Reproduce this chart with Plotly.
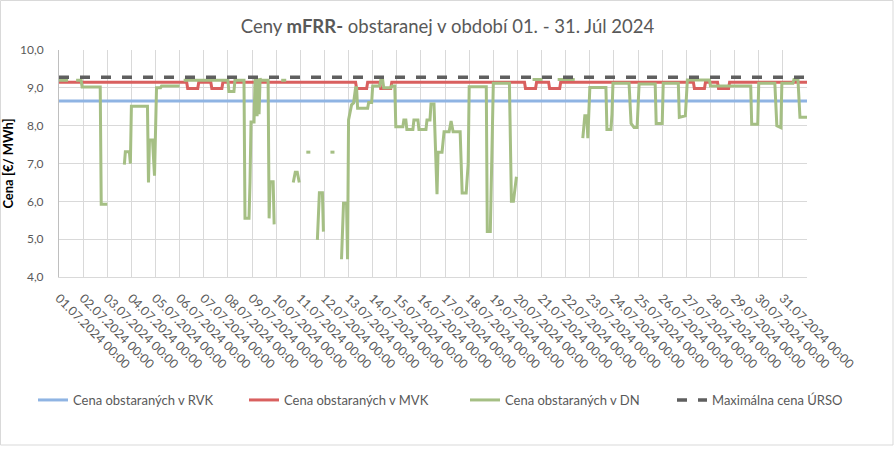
import plotly.graph_objects as go

# --- data ----------------------------------------------------------------
days = ["2024-07-%02d" % d for d in range(1, 32)]
day_labels = ["%02d.07.2024 00:00" % d for d in range(1, 32)]

period_start = "2024-07-01 00:00"
period_end = "2024-08-01 00:00"

rvk_value = 8.65          # Cena obstaraných v RVK
max_urso = 9.28           # Maximálna cena ÚRSO

# MVK: flat price with weekend dips (breakpoints)
mvk_time = [
    "2024-07-01 00:00",
    "2024-07-06 07:00", "2024-07-06 08:00", "2024-07-06 18:00", "2024-07-06 19:00",
    "2024-07-07 07:00", "2024-07-07 08:00", "2024-07-07 18:00", "2024-07-07 19:00",
    "2024-07-13 07:00", "2024-07-13 08:00", "2024-07-13 18:00", "2024-07-13 19:00",
    "2024-07-14 07:00", "2024-07-14 08:00", "2024-07-14 18:00", "2024-07-14 19:00",
    "2024-07-20 07:00", "2024-07-20 08:00", "2024-07-20 18:00", "2024-07-20 19:00",
    "2024-07-21 07:00", "2024-07-21 08:00", "2024-07-21 18:00", "2024-07-21 19:00",
    "2024-07-27 07:00", "2024-07-27 08:00", "2024-07-27 18:00", "2024-07-27 19:00",
    "2024-07-28 07:00", "2024-07-28 08:00", "2024-07-28 18:00", "2024-07-28 19:00",
    "2024-08-01 00:00",
]
mvk_value = [
    9.15,
    9.15, 8.98, 8.98, 9.15,
    9.15, 8.98, 8.98, 9.15,
    9.15, 8.98, 8.98, 9.15,
    9.15, 8.98, 8.98, 9.15,
    9.15, 8.98, 8.98, 9.15,
    9.15, 8.98, 8.98, 9.15,
    9.15, 8.98, 8.98, 9.15,
    9.15, 8.98, 8.98, 9.15,
    9.15,
]

# DN: breakpoints, None = no data
dn_time = [
    "2024-07-01 00:00", "2024-07-01 09:00", "2024-07-01 12:00",
    "2024-07-01 17:00", "2024-07-01 22:00", "2024-07-01 23:00", "2024-07-02 17:00",
    "2024-07-02 18:00", "2024-07-03 00:00", "2024-07-03 08:00",
    "2024-07-03 17:00", "2024-07-03 18:00", "2024-07-03 22:00", "2024-07-03 23:00",
    "2024-07-04 00:00", "2024-07-04 16:00", "2024-07-04 17:00", "2024-07-04 18:00",
    "2024-07-04 21:00", "2024-07-04 23:00", "2024-07-05 01:00", "2024-07-05 05:00",
    "2024-07-05 06:00", "2024-07-06 00:00", "2024-07-06 02:00",
    "2024-07-06 04:00", "2024-07-08 00:00", "2024-07-08 01:00", "2024-07-08 06:00",
    "2024-07-08 07:00", "2024-07-08 16:00", "2024-07-08 17:00", "2024-07-08 21:00",
    "2024-07-08 22:00", "2024-07-08 23:00", "2024-07-09 02:00", "2024-07-09 03:00",
    "2024-07-09 04:00", "2024-07-09 05:00", "2024-07-09 06:00", "2024-07-09 07:00",
    "2024-07-09 08:00", "2024-07-09 09:00", "2024-07-09 16:00", "2024-07-09 17:00",
    "2024-07-09 18:00", "2024-07-09 21:00", "2024-07-09 22:00", "2024-07-10 00:00",
    "2024-07-10 05:00", "2024-07-10 10:00", "2024-07-10 12:00",
    "2024-07-10 17:00", "2024-07-10 19:00", "2024-07-10 21:00", "2024-07-10 23:00",
    "2024-07-11 02:00",
    "2024-07-11 06:00", "2024-07-11 10:00", "2024-07-11 12:00",
    "2024-07-11 17:00", "2024-07-11 19:00", "2024-07-11 22:00", "2024-07-11 23:00",
    "2024-07-12 02:00",
    "2024-07-12 06:00", "2024-07-12 10:00", "2024-07-12 12:00",
    "2024-07-12 17:00", "2024-07-12 19:00", "2024-07-12 22:00", "2024-07-12 23:00",
    "2024-07-13 00:00", "2024-07-13 03:00", "2024-07-13 05:00", "2024-07-13 07:00",
    "2024-07-13 08:00", "2024-07-13 09:00", "2024-07-13 19:00", "2024-07-13 20:00",
    "2024-07-13 23:00", "2024-07-14 00:00", "2024-07-14 07:00", "2024-07-14 08:00",
    "2024-07-14 10:00", "2024-07-14 11:00", "2024-07-14 18:00", "2024-07-14 19:00",
    "2024-07-14 22:00", "2024-07-14 23:00", "2024-07-15 06:00", "2024-07-15 07:00",
    "2024-07-15 09:00", "2024-07-15 10:00", "2024-07-15 16:00", "2024-07-15 17:00",
    "2024-07-15 21:00", "2024-07-15 22:00", "2024-07-16 05:00", "2024-07-16 06:00",
    "2024-07-16 09:00", "2024-07-16 10:00", "2024-07-16 13:00", "2024-07-16 14:00",
    "2024-07-16 16:00", "2024-07-16 17:00", "2024-07-16 21:00", "2024-07-16 23:00",
    "2024-07-17 04:00", "2024-07-17 06:00", "2024-07-17 08:00", "2024-07-17 15:00",
    "2024-07-17 17:00", "2024-07-17 21:00", "2024-07-17 23:00", "2024-07-18 00:00",
    "2024-07-18 17:00", "2024-07-18 18:00", "2024-07-18 21:00", "2024-07-19 00:00",
    "2024-07-19 16:00", "2024-07-19 18:00", "2024-07-19 20:00", "2024-07-19 23:00",
    "2024-07-20 04:00",
    "2024-07-20 15:00", "2024-07-21 01:00", "2024-07-21 06:00",
    "2024-07-21 16:00", "2024-07-22 09:00", "2024-07-22 12:00",
    "2024-07-22 17:00", "2024-07-22 19:00", "2024-07-22 21:00", "2024-07-22 22:00",
    "2024-07-23 00:00", "2024-07-23 16:00", "2024-07-23 17:00", "2024-07-23 21:00",
    "2024-07-23 22:00", "2024-07-23 23:00", "2024-07-24 15:00", "2024-07-24 17:00",
    "2024-07-24 20:00", "2024-07-24 23:00", "2024-07-25 01:00", "2024-07-25 17:00",
    "2024-07-25 18:00", "2024-07-26 00:00", "2024-07-26 01:00", "2024-07-26 16:00",
    "2024-07-26 17:00", "2024-07-26 23:00", "2024-07-27 01:00", "2024-07-27 23:00",
    "2024-07-28 00:00", "2024-07-29 16:00", "2024-07-29 17:00", "2024-07-29 23:00",
    "2024-07-30 00:00", "2024-07-30 16:00", "2024-07-30 18:00", "2024-07-30 22:00",
    "2024-07-30 23:00", "2024-07-31 10:00", "2024-07-31 11:00", "2024-07-31 15:00",
    "2024-07-31 17:00", "2024-08-01 00:00",
]
dn_value = [
    9.20, 9.20, None,
    9.20, 9.20, 9.02, 9.02,
    5.92, 5.92, None,
    6.97, 7.31, 7.31, 7.00,
    8.51, 8.51, 6.50, 7.62,
    7.62, 6.68, 9.00, 9.00,
    9.05, 9.05, None,
    9.20, 9.20, 8.90, 8.90,
    9.20, 9.20, 5.55, 5.55,
    6.52, 8.10, 8.10, 9.25,
    9.25, 8.25, 9.25, 8.30,
    9.25, 9.20, 9.20, 5.55,
    6.52, 6.52, 5.39, None,
    9.20, 9.20, None,
    6.50, 6.77, 6.77, 6.50,
    None,
    7.30, 7.30, None,
    4.98, 6.23, 6.23, 5.20,
    None,
    7.30, 7.30, None,
    4.47, 5.95, 5.95, 4.47,
    8.15, 8.55, 8.60, 9.00,
    9.00, 8.46, 8.46, 8.61,
    8.61, 9.05, 9.05, 9.20,
    9.20, 9.00, 9.00, 9.05,
    9.05, 7.97, 7.97, 8.15,
    8.15, 7.90, 7.90, 8.15,
    8.15, 7.90, 7.90, 8.15,
    8.15, 8.57, 8.57, 7.88,
    6.19, 7.30, 7.30, 7.84,
    7.84, 8.12, 7.84, 7.84,
    6.22, 6.22, 7.00, 9.03,
    9.03, 5.20, 5.20, 9.12,
    9.12, 6.00, 6.00, 6.65,
    None,
    9.22, 9.22, None,
    9.22, 9.22, None,
    7.67, 8.26, 8.26, 7.67,
    9.01, 9.01, 7.90, 7.90,
    8.30, 9.12, 9.12, 8.06,
    7.95, 7.95, 9.10, 9.10,
    8.06, 8.06, 9.12, 9.12,
    8.22, 8.26, 9.21, 9.21,
    9.05, 9.05, 8.04, 8.04,
    9.12, 9.12, 8.00, 7.95,
    9.12, 9.12, 9.22, 9.22,
    8.22, 8.22,
]

# --- figure ---------------------------------------------------------------
FONT = "Lato"
GREY = "#595959"

W, H = 895, 449
L, R, T, B = 59, 88, 50, 172
pw, ph = W - L - R, H - T - B

fig = go.Figure()
fig.add_trace(go.Scatter(
    x=[period_start, period_end], y=[rvk_value, rvk_value], mode="lines",
    name="Cena obstaraných v RVK", legend="legend",
    line=dict(color="#8fb4e3", width=3)))
fig.add_trace(go.Scatter(
    x=mvk_time, y=mvk_value, mode="lines",
    name="Cena obstaraných v MVK", legend="legend2",
    line=dict(color="#d9605f", width=3)))
fig.add_trace(go.Scatter(
    x=dn_time, y=dn_value, mode="lines", connectgaps=False,
    name="Cena obstaraných v DN", legend="legend3",
    line=dict(color="#a5bf84", width=3)))
fig.add_trace(go.Scatter(
    x=[period_start, period_end], y=[max_urso, max_urso], mode="lines",
    name="Maximálna cena ÚRSO", legend="legend4",
    line=dict(color="#5f5f5f", width=3.5, dash="10px,11px")))


def legend_at(px):
    return dict(
        orientation="h", x=(px - L) / pw, xanchor="left",
        y=(T + ph - 400) / ph, yanchor="middle",
        font=dict(family=FONT, size=13, color=GREY),
        bgcolor="rgba(0,0,0,0)")


fig.update_layout(
    width=W, height=H,
    margin=dict(l=L, r=R, t=T, b=B, autoexpand=False),
    paper_bgcolor="white", plot_bgcolor="white",
    separators=", ",
    font=dict(family=FONT, size=12, color=GREY),
    title=dict(
        text="Ceny <b>mFRR-</b> obstaranej v období 01. - 31. Júl 2024",
        x=0.5, xref="container", xanchor="center",
        y=1 - 27 / H, yref="container", yanchor="middle",
        font=dict(family=FONT, size=18.5, color=GREY)),
    showlegend=True,
    legend=legend_at(33),
    legend2=legend_at(244),
    legend3=legend_at(465),
    legend4=legend_at(672),
    shapes=[dict(
        type="rect", xref="paper", yref="paper",
        x0=(0.5 - L) / pw, x1=(893 - L) / pw,
        y0=(T + ph - 445) / ph, y1=(T + ph - 0.5) / ph,
        line=dict(color="#d9d9d9", width=1), layer="below")],
)

fig.update_xaxes(
    type="date", range=[period_start, period_end], automargin=False,
    tickmode="array", tickvals=days + ["2024-08-01"], ticktext=day_labels + [""],
    tickangle=45, tickfont=dict(family=FONT, size=12.5, color=GREY),
    ticklabelstandoff=8,
    showgrid=True, gridcolor="#d9d9d9", gridwidth=1,
    showline=True, linecolor="#d9d9d9", ticks="", zeroline=False)

fig.update_yaxes(
    range=[4, 10], dtick=1, tickformat=".1f", automargin=False,
    tickfont=dict(family=FONT, size=12, color=GREY),
    ticklabelstandoff=12,
    showgrid=True, gridcolor="#d9d9d9", gridwidth=1,
    showline=True, linecolor="#bfbfbf", zeroline=False,
    title=dict(text="<b>Cena [€/ MWh]</b>", standoff=4,
               font=dict(family=FONT, size=13, color="black")))

# page margin off so the figure sits at the window origin
fig.write_html("out.html", config={"displayModeBar": False},
               post_script="document.body.style.margin='0';")
